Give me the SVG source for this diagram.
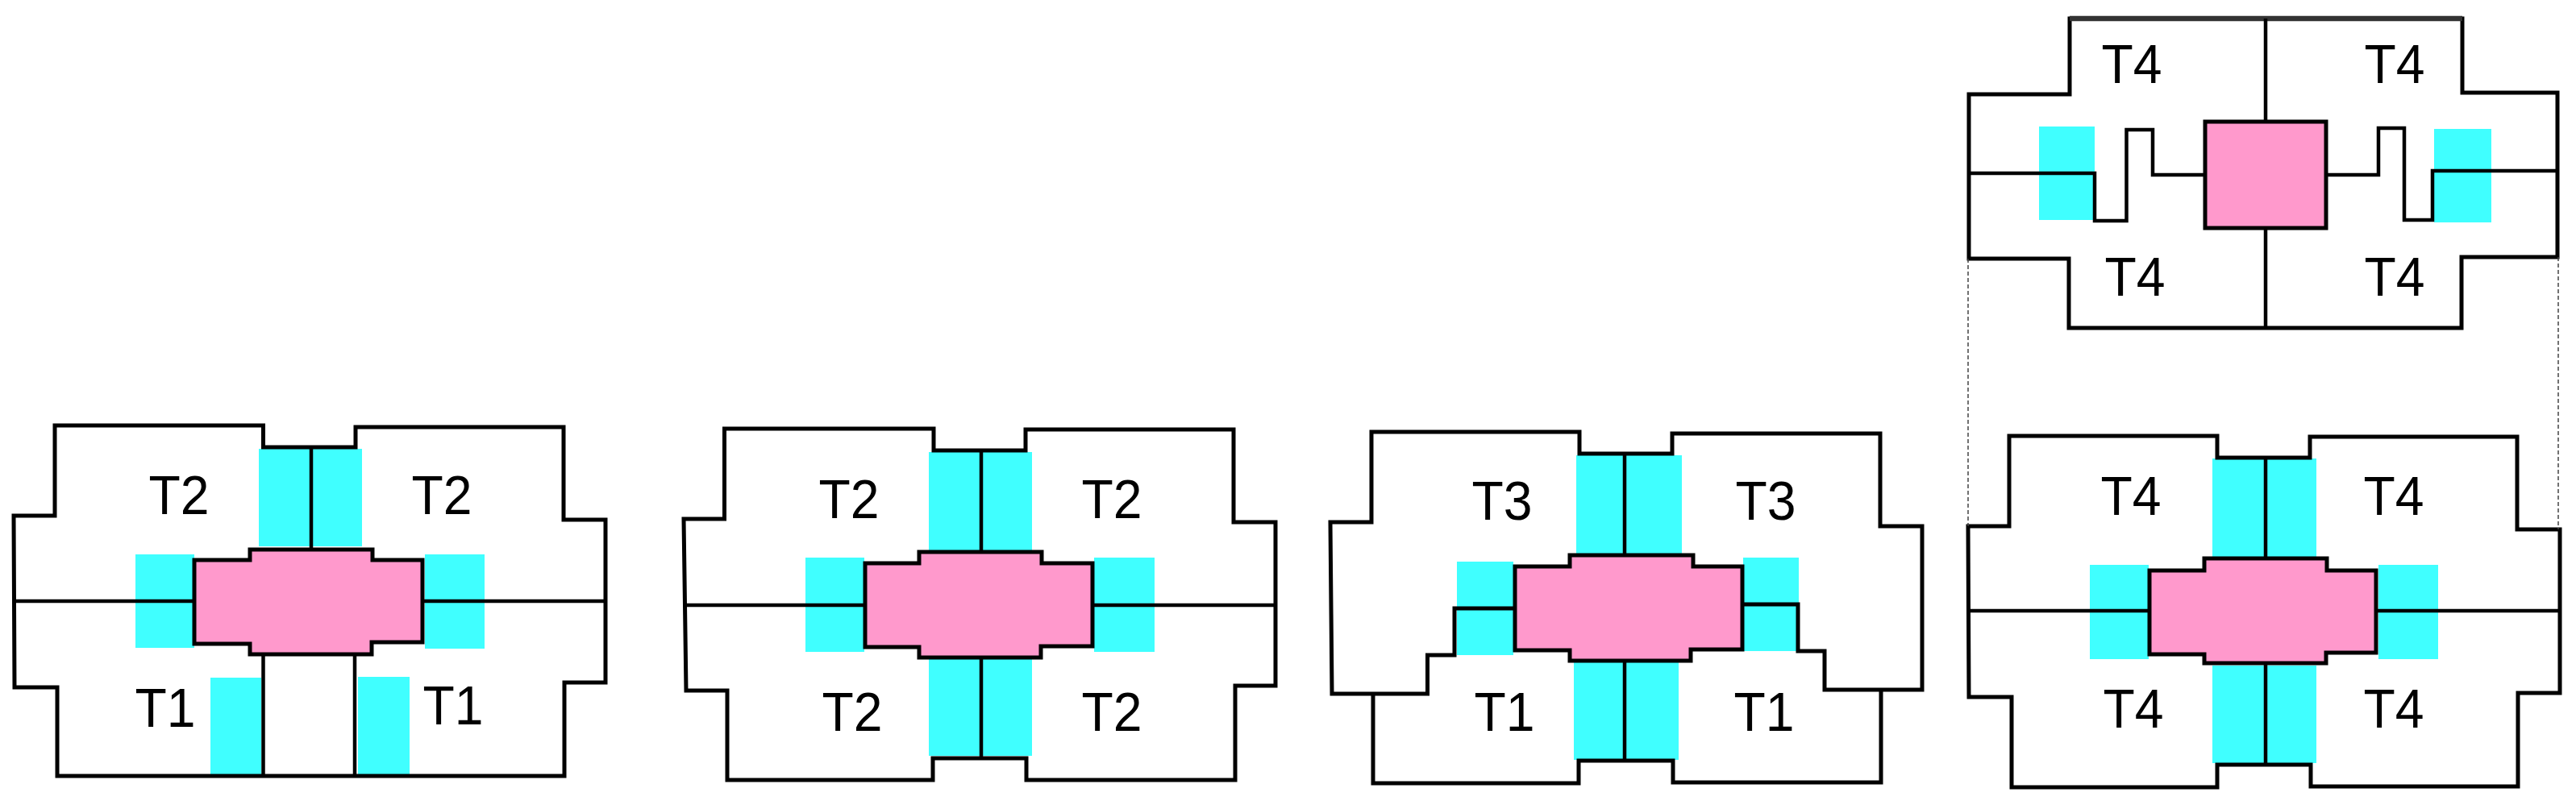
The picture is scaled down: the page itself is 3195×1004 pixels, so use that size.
<svg xmlns="http://www.w3.org/2000/svg" width="3195" height="1004" viewBox="0 0 3195 1004">
<style>
.c{fill:#40ffff}
.p{fill:#ff99cc;stroke:#000;stroke-width:5;stroke-linejoin:miter}
.o{fill:none;stroke:#000;stroke-width:5;stroke-linejoin:miter}
.l{fill:none;stroke:#000;stroke-width:4.5;stroke-linejoin:miter}
.d{fill:none;stroke:#444;stroke-width:1.5;stroke-dasharray:5 3}
text{font-family:"Liberation Sans",Arial,sans-serif;font-size:68px;fill:#000;text-anchor:middle}
</style>
<rect width="3195" height="1004" fill="#fff"/>
<g id="plan-1">
<rect class="c" x="321" y="557" width="128" height="121"/>
<rect class="c" x="168" y="688" width="73" height="116"/>
<rect class="c" x="527" y="688" width="74" height="117"/>
<rect class="c" x="261" y="841" width="63" height="121"/>
<rect class="c" x="444" y="840" width="64" height="122"/>
<path class="o" d="M68 528H326.500V555H441V530H699V645H751V847H700V963H71V853H18L17 640H68Z"/>
<path class="l" d="M386 555V682M18 746H241M525 746H751M326.500 812V963M440 812V963"/>
<path class="p" d="M241 695H310V682H462V695H524V797H461V812H310V799H241Z"/>
<text x="222" y="638" textLength="75" lengthAdjust="spacingAndGlyphs">T2</text><text x="548" y="638" textLength="75" lengthAdjust="spacingAndGlyphs">T2</text><text x="205" y="902" textLength="75" lengthAdjust="spacingAndGlyphs">T1</text><text x="562" y="899" textLength="75" lengthAdjust="spacingAndGlyphs">T1</text>
</g>
<g id="plan-2">
<rect class="c" x="1152" y="561" width="128" height="122"/>
<rect class="c" x="1152" y="817" width="128" height="121"/>
<rect class="c" x="999" y="692" width="73" height="117"/>
<rect class="c" x="1357" y="692" width="75" height="117"/>
<path class="o" d="M898.500 532H1158V559H1272V533H1530V648H1582V851H1532V968H1273V941H1157V968H902V857H851L848 644H898.500Z"/>
<path class="l" d="M1217 559V685M1217 816V941M848 751H1073M1355 751H1582"/>
<path class="p" d="M1073 699H1140V685H1292V699H1355V802H1291V816H1140V803H1073Z"/>
<text x="1053" y="643" textLength="75" lengthAdjust="spacingAndGlyphs">T2</text><text x="1379" y="643" textLength="75" lengthAdjust="spacingAndGlyphs">T2</text><text x="1057" y="907" textLength="75" lengthAdjust="spacingAndGlyphs">T2</text><text x="1379" y="907" textLength="75" lengthAdjust="spacingAndGlyphs">T2</text>
</g>
<g id="plan-3">
<rect class="c" x="1955" y="565" width="131" height="122"/>
<rect class="c" x="1952" y="822" width="130" height="121"/>
<rect class="c" x="1807" y="697" width="70" height="116"/>
<rect class="c" x="2162" y="692" width="69" height="116"/>
<path class="o" d="M1879 755H1804V813H1770.500V861H1652L1650 648H1701V536H1959V563H2074V538H2332V653H2384V856H2263V808H2230V750H2162"/>
<path class="o" d="M1703 861V972H1958V944H2075V971H2333V856"/>
<path class="l" d="M2015 563V689M2015 820V944"/>
<path class="p" d="M1879 703H1947V689H2100V703H2161V806H2097V820H1947V807H1879Z"/>
<text x="1863" y="645" textLength="75" lengthAdjust="spacingAndGlyphs">T3</text><text x="2190" y="645" textLength="75" lengthAdjust="spacingAndGlyphs">T3</text><text x="1866" y="907" textLength="75" lengthAdjust="spacingAndGlyphs">T1</text><text x="2188" y="907" textLength="75" lengthAdjust="spacingAndGlyphs">T1</text>
</g>
<g id="plan-4">
<rect class="c" x="2744" y="569" width="129" height="122"/>
<rect class="c" x="2744" y="826" width="129" height="121"/>
<rect class="c" x="2592" y="701" width="73" height="117"/>
<rect class="c" x="2950" y="701" width="74" height="117"/>
<path class="o" d="M2492 541H2750V568H2865V542H3122V657H3175V860H3123V976H2866V949H2750V977H2495V865H2442L2441 653H2492Z"/>
<path class="l" d="M2810 568V693M2810 823V949M2442 758H2666M2947 758H3175"/>
<path class="p" d="M2666 708H2734V693H2886V708H2947V810H2885V823H2734V812H2666Z"/>
<text x="2643" y="639" textLength="75" lengthAdjust="spacingAndGlyphs">T4</text><text x="2969" y="639" textLength="75" lengthAdjust="spacingAndGlyphs">T4</text><text x="2646" y="903" textLength="75" lengthAdjust="spacingAndGlyphs">T4</text><text x="2969" y="903" textLength="75" lengthAdjust="spacingAndGlyphs">T4</text>
</g>
<g id="plan-5">
<rect class="c" x="2529" y="157" width="69" height="116"/>
<rect class="c" x="3019" y="160" width="71" height="116"/>
<path class="o" d="M2567 23H3054V115H3172V319H3053V407H2566V321H2442V117H2567Z"/>
<path class="l" d="M2567 23H3054" style="stroke:#333;stroke-width:6.500"/>
<path class="l" d="M2810 23V151M2810 283V407M2442 215H2598V274H2637.500V161H2670V217H2735M2885 217H2950V159H2982V273H3017V212H3172"/>
<rect class="p" x="2735" y="151" width="150" height="132"/>
<text x="2644" y="103" textLength="75" lengthAdjust="spacingAndGlyphs">T4</text><text x="2970" y="103" textLength="75" lengthAdjust="spacingAndGlyphs">T4</text><text x="2648" y="367" textLength="75" lengthAdjust="spacingAndGlyphs">T4</text><text x="2970" y="367" textLength="75" lengthAdjust="spacingAndGlyphs">T4</text>
</g>
<g id="connectors">
<path class="d" d="M2441 321V653M3173 319V657"/>
</g>
</svg>
